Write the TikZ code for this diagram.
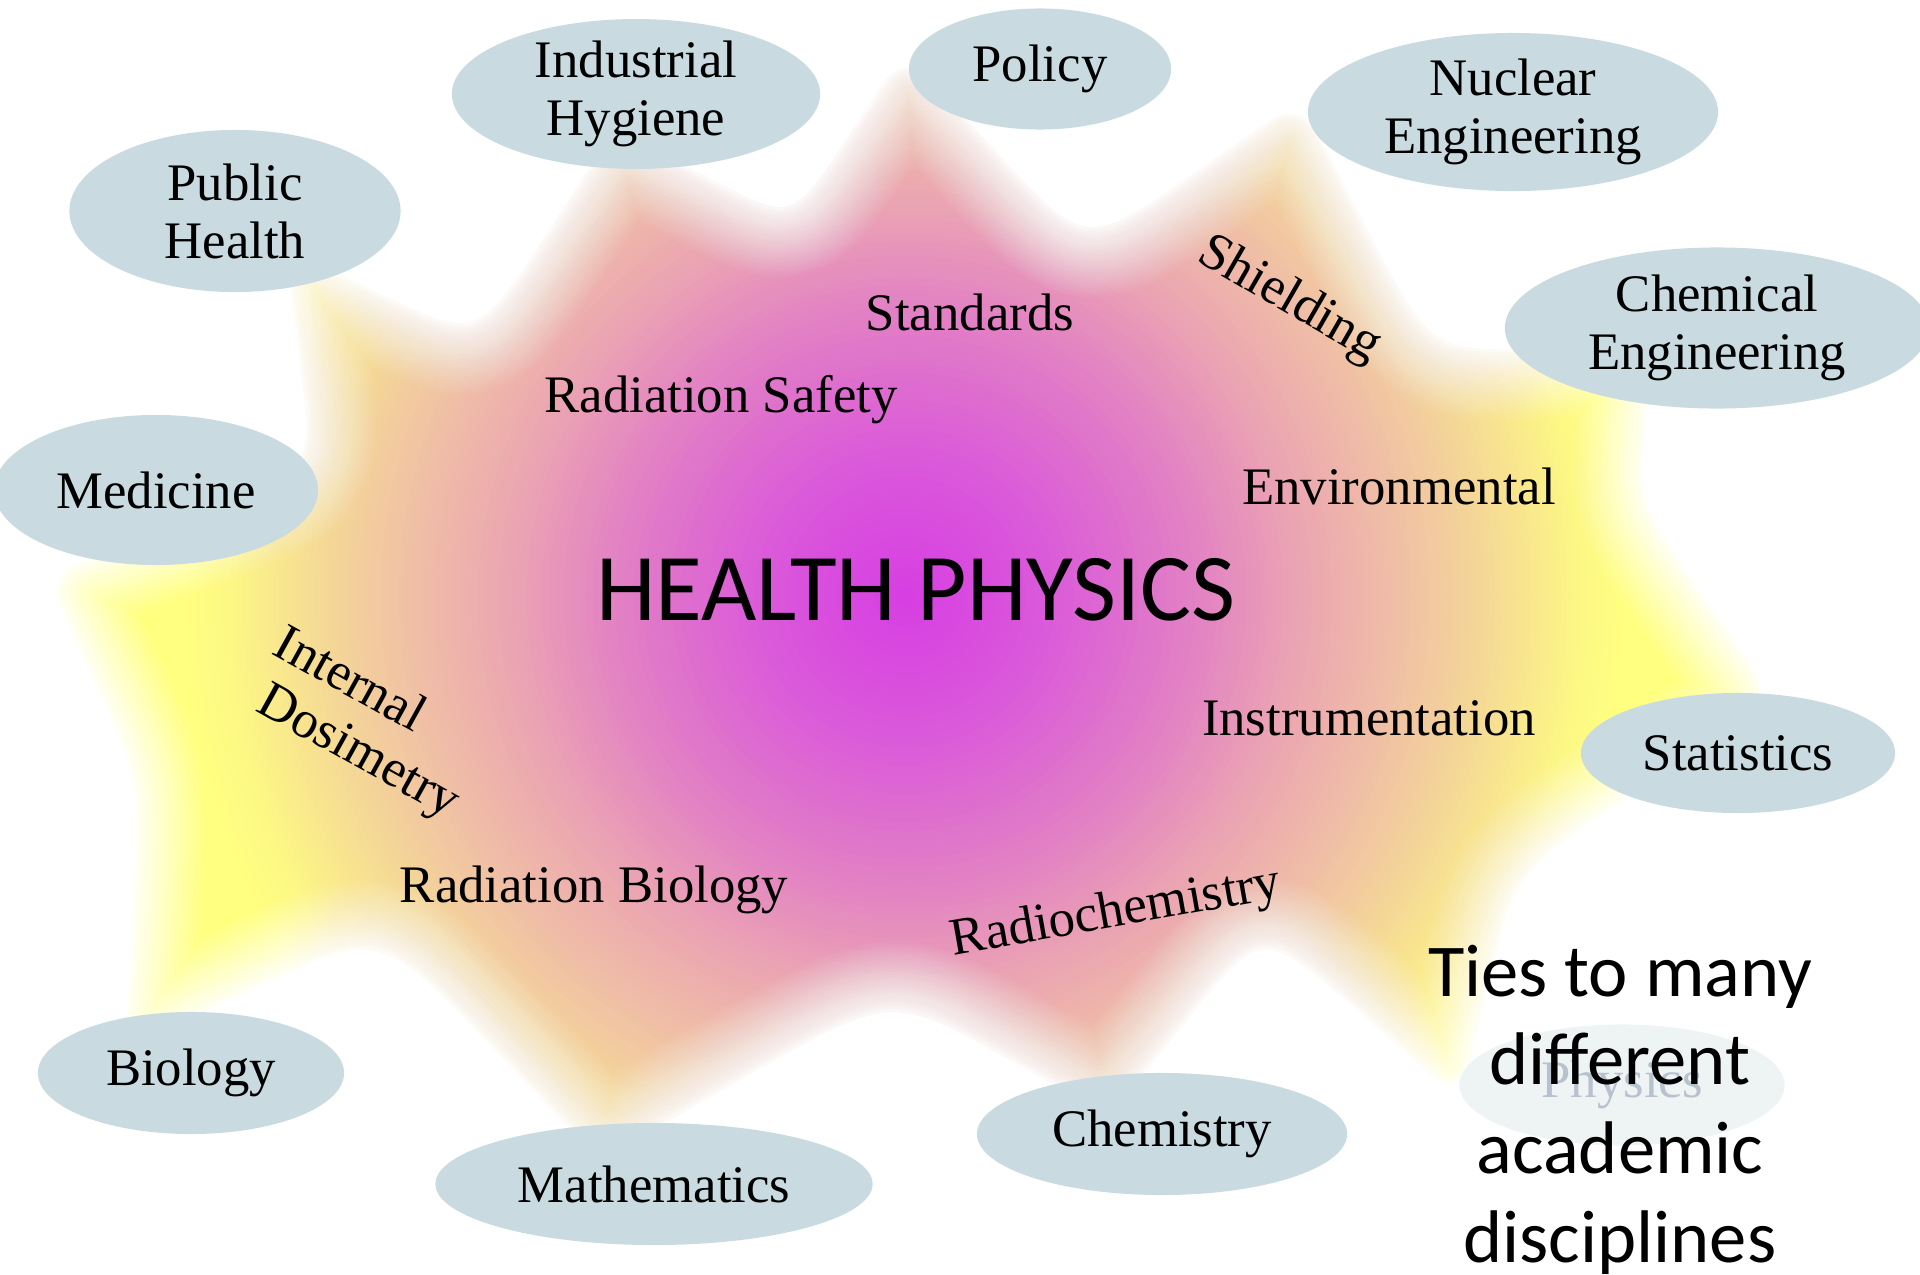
\documentclass[tikz,border=0pt]{standalone}
\usepackage{fontspec}
\setmainfont{Liberation Serif}
\newfontfamily\calib{Carlito}
\usetikzlibrary{shapes.geometric,calc}
\definecolor{ellfill}{RGB}{201,219,224}
\definecolor{physfill}{RGB}{238,243,244}
\definecolor{physgray}{RGB}{184,194,206}
\definecolor{hpA}{HTML}{D73DE3}
\definecolor{hpAA}{HTML}{DA5AD9}
\definecolor{hpB}{HTML}{E280C5}
\definecolor{hpC}{HTML}{EBA5B2}
\definecolor{hpD}{HTML}{F0C0A5}
\definecolor{hpE}{HTML}{F5DA95}
\definecolor{hpF}{HTML}{FDF884}
\definecolor{hpG}{HTML}{FFFF80}
\newcommand\hpring[4]{%
  \foreach \j in {0,...,14}{%
    \pgfmathsetmacro\rr{#2-(#2-#1)*\j/15}%
    \pgfmathtruncatemacro\pp{100*\j/15}%
    \fill[#3!\pp!#4] (905,597) circle[radius=\rr];
  }}
\tikzset{
  disc/.style={ellipse, fill=ellfill, inner sep=0pt, align=center, font=\fontsize{15}{16.5}\selectfont},
  topic/.style={inner sep=0pt, font=\fontsize{15}{16.5}\selectfont},
}
\def\starpath{(T1) -- ($(V1)!0.65!(T1)$) .. controls (V1) and (V1) .. ($(V1)!0.65!(T2)$)
 -- (T2) -- ($(V2)!0.65!(T2)$) .. controls (V2) and (V2) .. ($(V2)!0.65!(T3)$)
 -- (T3) -- ($(V3)!0.65!(T3)$) .. controls (V3) and (V3) .. ($(V3)!0.65!(T4)$)
 -- (T4) -- ($(V4)!0.65!(T4)$) .. controls (V4) and (V4) .. ($(V4)!0.65!(T5)$)
 -- (T5) -- ($(V5)!0.65!(T5)$) .. controls (V5) and (V5) .. ($(V5)!0.65!(T6)$)
 -- (T6) -- ($(V6)!0.65!(T6)$) .. controls (V6) and (V6) .. ($(V6)!0.65!(T7)$)
 -- (T7) -- ($(V7)!0.65!(T7)$) .. controls (V7) and (V7) .. ($(V7)!0.65!(T8)$)
 -- (T8) -- ($(V8)!0.65!(T8)$) .. controls (V8) and (V8) .. ($(V8)!0.65!(T9)$)
 -- (T9) -- ($(V9)!0.65!(T9)$) .. controls (V9) and (V9) .. ($(V9)!0.65!(T10)$)
 -- (T10) -- ($(V10)!0.65!(T10)$) .. controls (V10) and (V10) .. ($(V10)!0.65!(T11)$)
 -- (T11) -- ($(V11)!0.65!(T11)$) .. controls (V11) and (V11) .. ($(V11)!0.65!(T1)$)
 -- cycle}
\begin{document}
\begin{tikzpicture}[x=0.01cm, y=-0.01cm]
\useasboundingbox (0,0) rectangle (1920,1275);
\fill[white] (0,0) rectangle (1920,1275);
% star outline: tips and valleys
\coordinate (T1) at (905,52);   \coordinate (V1) at (1085,250);
\coordinate (T2) at (1300,100); \coordinate (V2) at (1430,352);
\coordinate (T3) at (1650,345); \coordinate (V3) at (1640,505);
\coordinate (T4) at (1775,700); \coordinate (V4) at (1515,870);
\coordinate (T5) at (1460,1100);\coordinate (V5) at (1262,926);
\coordinate (T6) at (1110,1115);\coordinate (V6) at (890,993);
\coordinate (T7) at (600,1160); \coordinate (V7) at (380,928);
\coordinate (T8) at (125,1050); \coordinate (V8) at (140,780);
\coordinate (T9) at (45,575);   \coordinate (V9) at (315,475);
\coordinate (T10) at (285,250); \coordinate (V10) at (478,340);
\coordinate (T11) at (615,130); \coordinate (V11) at (792,222);
% glowing star
\begin{scope}
  \clip[rounded corners=0.35cm] \starpath;
  \fill[hpG] (0,0) rectangle (1920,1275);
  \hpring{680}{720}{hpF}{hpG}
  \hpring{590}{680}{hpE}{hpF}
  \hpring{500}{590}{hpD}{hpE}
  \hpring{400}{500}{hpC}{hpD}
  \hpring{290}{400}{hpB}{hpC}
  \hpring{150}{290}{hpAA}{hpB}
  \hpring{0}{150}{hpA}{hpAA}
\end{scope}
\foreach \k in {1,...,28}{
  \pgfmathsetmacro\op{1/(\k+0.5)}
  \draw[white, line width=\k*0.05cm, opacity=\op, rounded corners=0.35cm, line join=round] \starpath;
}
% disciplines
\node[disc, minimum width=3.68cm, minimum height=1.47cm] (indhyg) at (636,94) {Industrial\\Hygiene};
\node[disc, minimum width=2.62cm, minimum height=1.21cm] (policy) at (1040,69) {Policy};
\node[disc, minimum width=4.10cm, minimum height=1.58cm] (nuceng) at (1513,112) {Nuclear\\Engineering};
\node[disc, minimum width=3.31cm, minimum height=1.62cm] (pubhealth) at (235,211) {Public\\Health};
\node[disc, minimum width=4.24cm, minimum height=1.61cm] (chemeng) at (1717,328) {Chemical\\Engineering};
\node[disc, minimum width=3.24cm, minimum height=1.50cm] (medicine) at (156,490) {Medicine};
\node[disc, minimum width=3.14cm, minimum height=1.20cm] (statistics) at (1738,753) {Statistics};
\node[disc, minimum width=3.06cm, minimum height=1.22cm] (biology) at (191,1073) {Biology};
\node[disc, minimum width=4.37cm, minimum height=1.22cm] (math) at (654,1184) {Mathematics};
\node[disc, minimum width=3.70cm, minimum height=1.22cm] (chemistry) at (1162,1134) {Chemistry};
\node[disc, fill=physfill, text=physgray, minimum width=3.25cm, minimum height=1.21cm] (physics) at (1622,1085) {Physics};
% topics
\node[topic, anchor=base] (standards) at (970,330) {Standards};
\node[topic, anchor=base] (radsafety) at (721,412) {Radiation Safety};
\node[topic, rotate=-30] (shielding) at (1289,300) {Shielding};
\node[topic, anchor=base] (environmental) at (1399,504) {Environmental};
\node[topic, anchor=base] (instrumentation) at (1369,735) {Instrumentation};
\node[topic, rotate=10] (radiochem) at (1116,914) {Radiochemistry};
\node[topic, anchor=base] (radbio) at (594,902) {Radiation Biology};
\node[topic, rotate=-29, align=left] (intdos) at (366,725) {Internal\\\hspace*{0.25em}Dosimetry};
% titles
\node[inner sep=0pt, anchor=base, font=\calib\fontsize{27.2}{30}\selectfont] (hp) at (916,620) {HEALTH PHYSICS};
\node[inner sep=0pt, anchor=base, align=center, font=\calib\fontsize{21.2}{25.2}\selectfont] (ties) at (1620,1262) {Ties to many\\different\\academic\\disciplines};
\end{tikzpicture}
\end{document}
